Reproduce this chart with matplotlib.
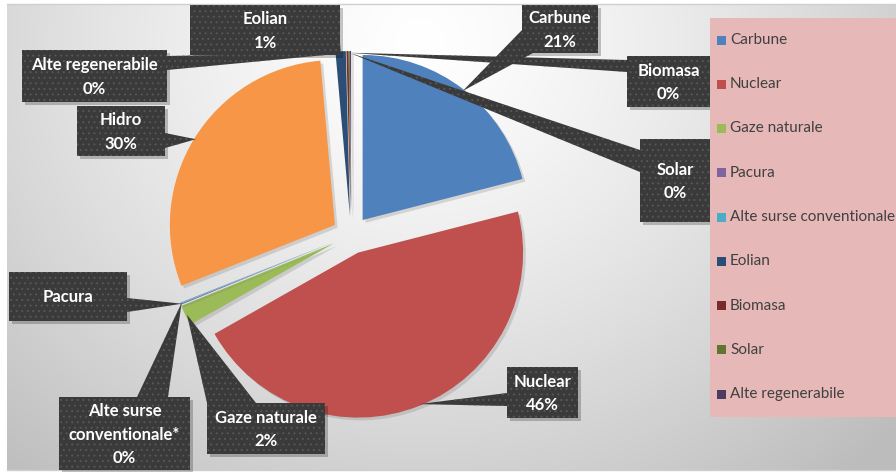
import numpy as np
import matplotlib
matplotlib.use("Agg")
import matplotlib.pyplot as plt
from matplotlib.patches import Rectangle, Polygon
import matplotlib.patheffects as pe

plt.rcParams['font.family'] = ['Lato', 'DejaVu Sans']

# ---------------- data ----------------
categories = ["Carbune", "Nuclear", "Gaze naturale", "Pacura", "Alte surse conventionale",
              "Hidro", "Eolian", "Biomasa", "Solar", "Alte regenerabile"]
shares = [21.0, 45.8, 2.0, 0.1, 0.1, 29.6, 1.0, 0.2, 0.1, 0.1]
colors = ["#4f81bd", "#c0504d", "#9bbb59", "#8064a2", "#4bacc6",
          "#f79646", "#2c4d75", "#772c2a", "#5f7530", "#4d3b62"]
label_names = ["Carbune", "Nuclear", "Gaze naturale", "Pacura", "Alte surse\nconventionale*",
               "Hidro", "Eolian", "Biomasa", "Solar", "Alte regenerabile"]
show_percent = [True, True, True, False, True, True, True, True, True, True]
legend_items = ["Carbune", "Nuclear", "Gaze naturale", "Pacura", "Alte surse conventionale",
                "Eolian", "Biomasa", "Solar", "Alte regenerabile"]

# ---------------- layout (pixels, origin top-left) ----------------
W, H = 896, 472
def P(x, y):
    return (x, H - y)

pie_center_px = (351, 235)
R = 165
explode_frac = 0.115

# label boxes: x, y (top-left), w, h
boxes = [
    (522, 5, 76, 48),     # Carbune
    (507, 367, 71, 51),   # Nuclear
    (207, 403, 118, 51),  # Gaze naturale
    (9, 272, 118, 49),    # Pacura
    (59, 397, 131, 73),   # Alte surse conv
    (77, 106, 88, 50),    # Hidro
    (190, 5, 150, 50),    # Eolian
    (627, 56, 83, 51),    # Biomasa
    (640, 139, 70, 83),   # Solar
    (22, 50, 145, 52),    # Alte regenerabile
]
pointer_bases = [
    ((522, 30), (533, 53)),
    ((507, 393), (507, 406)),
    ((207, 403), (256, 403)),
    ((127, 298), (127, 312)),
    ((137, 397), (168, 397)),
    ((165, 133), (165, 148)),
    ((320, 55), (340, 42)),
    ((627, 60), (627, 72)),
    ((640, 150), (640, 172)),
    ((167, 56), (167, 70)),
]

fig = plt.figure(figsize=(W / 100, H / 100), dpi=100)
fig.patch.set_facecolor("white")
ax = fig.add_axes([0, 0, 1, 1])

# background gradient
yy, xx = np.mgrid[0:H, 0:W]
d = np.sqrt(((xx - 420) / 1.0) ** 2 + ((yy - 40) / 0.9) ** 2)
v = 1 - 0.26 * np.clip(d / 640, 0, 1) ** 1.3
img = np.dstack([v, v, v])
mask = (xx < 7) | (yy < 4) | (yy > 470)
img[mask] = 1.0
ax.imshow(img, extent=(0, W, 0, H), origin="upper", zorder=0, aspect="auto")
ax.plot([7, W], [H - 4, H - 4], color="#cfcfcf", lw=1, zorder=0.5)
ax.plot([7, W], [H - 470, H - 470], color="#cfcfcf", lw=1, zorder=0.5)

# pie
cx, cy = P(*pie_center_px)
wedges, _ = ax.pie(shares, colors=colors, startangle=90, counterclock=False,
                   radius=R, center=(cx, cy), explode=[explode_frac * R] * len(shares),
                   wedgeprops=dict(linewidth=0))
for w in wedges:
    w.set_zorder(2)
    w.set_path_effects([pe.SimplePatchShadow(offset=(2, -2), shadow_rgbFace="#777777", alpha=0.25),
                        pe.Normal()])

ax.set_xlim(0, W)
ax.set_ylim(0, H)
ax.set_aspect("auto")
ax.axis("off")

plt.rcParams['hatch.linewidth'] = 0.7
total = sum(shares)
box_fc = "#3a3a3a"
dot_c = "#575757"
for i, w in enumerate(wedges):
    mid = np.deg2rad((w.theta1 + w.theta2) / 2)
    wc = w.center
    tip = (wc[0] + 0.99 * R * np.cos(mid), wc[1] + 0.99 * R * np.sin(mid))
    bx, by, bw, bh = boxes[i]
    (p1x, p1y), (p2x, p2y) = pointer_bases[i]
    # shadow
    ax.add_patch(Rectangle(P(bx + 3, by + bh + 3), bw, bh, facecolor="#000000", alpha=0.22,
                           lw=0, zorder=3))
    ax.add_patch(Polygon([P(p1x, p1y), P(p2x, p2y), tip], closed=True, facecolor=box_fc,
                         edgecolor=dot_c, lw=0, hatch="...", zorder=4))
    ax.add_patch(Rectangle(P(bx, by + bh), bw, bh, facecolor=box_fc, edgecolor=dot_c,
                           lw=0, hatch="...", zorder=5))
    txt = label_names[i]
    if show_percent[i]:
        txt += "\n" + f"{round(shares[i] / total * 100):.0f}%"
    ax.text(*P(bx + bw / 2, by + bh / 2 + 1), txt, ha="center", va="center", color="white",
            fontsize=12, fontweight="bold", linespacing=1.6, zorder=6)

# legend
ax.add_patch(Rectangle(P(710, 417), W - 710, 417 - 18, facecolor="#e6b8b7", lw=0, zorder=3))
for j, name in enumerate(legend_items):
    yc = 40 + j * 44.25
    k = categories.index(name)
    ax.add_patch(Rectangle(P(717, yc + 4.5), 9, 9, facecolor=colors[k], lw=0, zorder=4))
    ax.text(*P(730, yc), name, ha="left", va="center", color="#404040", fontsize=11, zorder=4)

fig.savefig("out.png", dpi=100)
